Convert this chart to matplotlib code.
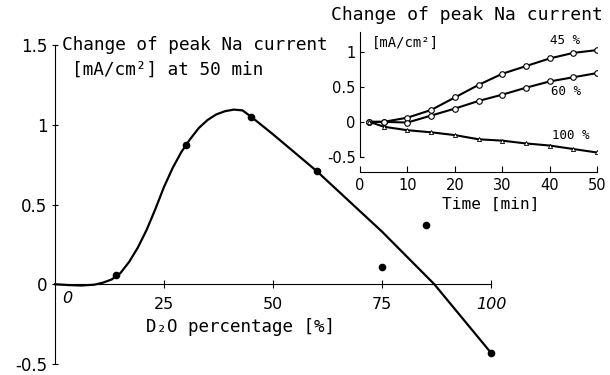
import matplotlib.pyplot as plt

plt.rcParams['font.family'] = ['DejaVu Sans']
MONO = ['DejaVu Sans Mono', 'DejaVu Sans']

# --- Dados principais: variação da corrente de pico de Na aos 50 min ---
d2o_pct = [14, 30, 45, 60, 75, 85, 100]
delta_na = [0.06, 0.87, 1.05, 0.71, 0.11, 0.37, -0.43]

# curva ajustada
curva_x = [0, 3, 6, 9, 11, 13, 15, 17, 19, 21, 23, 25, 27, 29, 31, 33, 35, 37, 39, 41, 43, 45, 50, 60, 75, 87, 100]
curva_y = [0, -0.005, -0.008, -0.003, 0.01, 0.03, 0.07, 0.14, 0.23, 0.34, 0.47, 0.61, 0.73, 0.83, 0.91, 0.98, 1.03, 1.065, 1.085, 1.095, 1.09, 1.05, 0.94, 0.71, 0.33, 0.0, -0.43]

main_xticks = [25, 50, 75, 100]
main_yticks = [-0.5, 0, 0.5, 1, 1.5]
main_yticklabels = ['-0.5', '0', '0.5', '1', '1.5']

# --- Inserto: curso temporal ---
tempo = [2, 5, 10, 15, 20, 25, 30, 35, 40, 45, 50]
na_45 = [0, 0, 0.06, 0.17, 0.35, 0.53, 0.69, 0.80, 0.91, 0.99, 1.03]
na_60 = [0, 0, -0.01, 0.09, 0.19, 0.30, 0.39, 0.49, 0.58, 0.64, 0.70]
na_100 = [0, -0.07, -0.12, -0.15, -0.19, -0.25, -0.27, -0.31, -0.34, -0.39, -0.44]

ins_xticks = [0, 10, 20, 30, 40, 50]
ins_yticks = [-0.5, 0, 0.5, 1]
ins_yticklabels = ['-0.5', '0', '0.5', '1']

fig = plt.figure(figsize=(6.1, 3.75), dpi=100)

# --- Gráfico principal ---
ax = fig.add_axes([55 / 610, 11 / 375, 436 / 610, 319 / 375])
ax.plot(curva_x, curva_y, color='black', lw=1.6, clip_on=False)
ax.plot(d2o_pct, delta_na, 'o', color='black', ms=4.5, clip_on=False)
ax.set_xlim(0, 100)
ax.set_ylim(-0.5, 1.5)
ax.spines['top'].set_visible(False)
ax.spines['right'].set_visible(False)
ax.spines['bottom'].set_position(('data', 0))
ax.spines['bottom'].set_bounds(0, 100)
ax.set_xticks(main_xticks)
ax.set_xticklabels(main_xticks, fontsize=11.5)
for lab in ax.get_xticklabels():
    if lab.get_text() == '100':
        lab.set_style('italic')
ax.tick_params(axis='x', direction='inout', length=6, pad=6)
ax.set_yticks(main_yticks)
ax.set_yticklabels(main_yticklabels, fontsize=12)
ax.tick_params(axis='y', direction='inout', length=5, pad=3)
ax.text(2.8, -0.045, '0', fontsize=11.5, style='italic', ha='center', va='top')
ax.text(42.5, -0.27, 'D\u2082O percentage [%]', fontsize=12.6, family=MONO, ha='center', va='center')
ax.text(1.6, 1.5, 'Change of peak Na current', fontsize=12.8, family=MONO, ha='left', va='center')
ax.text(3.8, 1.345, '[mA/cm\u00b2] at 50 min', fontsize=12.8, family=MONO, ha='left', va='center')

# --- Inserto ---
ins = fig.add_axes([360 / 610, 203 / 375, 237 / 610, 140 / 375])
ins.plot(tempo, na_45, '-o', color='black', lw=1.5, ms=4, mfc='white', mew=0.8)
ins.plot(tempo, na_60, '-o', color='black', lw=1.5, ms=4, mfc='white', mew=0.8)
ins.plot(tempo, na_100, '-^', color='black', lw=1.5, ms=3, mfc='white', mew=0.6)
ins.set_xlim(0, 50)
ins.set_ylim(-0.72, 1.29)
ins.patch.set_alpha(0)
ins.spines['top'].set_visible(False)
ins.spines['right'].set_visible(False)
ins.spines['left'].set_bounds(-0.5, 1.29)
ins.set_xticks(ins_xticks)
ins.set_xticklabels(ins_xticks, fontsize=10.5)
ins.tick_params(axis='x', direction='in', length=4, pad=4)
ins.set_yticks(ins_yticks)
ins.set_yticklabels(ins_yticklabels, fontsize=10.5)
ins.tick_params(axis='y', direction='in', length=3, pad=3)
ins.text(22.6, 1.53, 'Change of peak Na current', fontsize=13, family=MONO, ha='center', va='center', clip_on=False)
ins.text(2.5, 1.13, '[mA/cm\u00b2]', fontsize=10, family=MONO, ha='left', va='center')
ins.text(27.5, -1.19, 'Time [min]', fontsize=11.6, family=MONO, ha='center', va='center', clip_on=False)
ins.text(43.3, 1.17, '45 %', fontsize=9, family=MONO, ha='center', va='center')
ins.text(43.5, 0.43, '60 %', fontsize=9, family=MONO, ha='center', va='center')
ins.text(44.4, -0.2, '100 %', fontsize=9, family=MONO, ha='center', va='center')

fig.savefig('out.png', dpi=100)
